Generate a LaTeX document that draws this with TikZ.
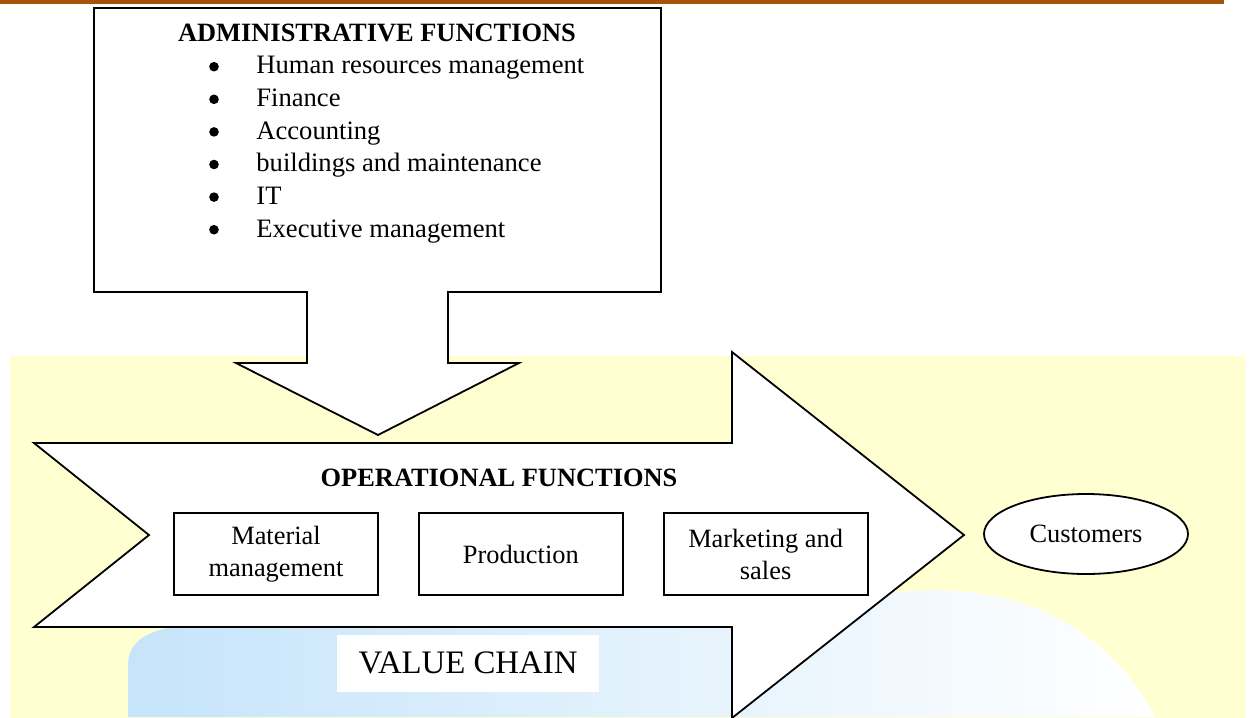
\documentclass[tikz,border=0pt]{standalone}
\usepackage{fontspec}
\setmainfont{Liberation Serif}
\usetikzlibrary{shapes.geometric, positioning}
\definecolor{rulebrown}{RGB}{165, 82, 12}
\definecolor{slideyellow}{RGB}{255, 255, 210}
\definecolor{paleyellow}{RGB}{255, 255, 230}
\definecolor{globeblue}{RGB}{198, 228, 250}

\tikzset{
  blockarrow/.style={draw=black, fill=white, line width=0.9pt, line join=miter},
  funcbox/.style={draw=black, fill=white, line width=0.9pt, minimum width=102pt,
    minimum height=41pt, align=center, inner sep=2pt, font=\fontsize{13.2}{16}\selectfont},
  heading/.style={font=\fontsize{13.2}{16}\selectfont\bfseries, inner sep=0pt},
  listitem/.style={font=\fontsize{13.3}{16.3}\selectfont, inner sep=0pt, anchor=base west}
}

\begin{document}
\begin{tikzpicture}[x=0.5pt, y=-0.5pt]
  \useasboundingbox (0,0) rectangle (1252,717);

  % page rule and slide background
  \fill[rulebrown] (0,0) rectangle (1224,4.5);
  \shade[left color=slideyellow, middle color=paleyellow, right color=slideyellow]
    (10,356) rectangle (1245,717);
  \begin{scope}
    \clip (10,356) rectangle (1245,717);
    % faded globe behind the chain
    \shade[left color=globeblue, right color=white]
      (128,717) -- (128,665) .. controls (128,640) and (150,628) .. (190,625)
      -- (700,605) -- (900,592) .. controls (1020,580) and (1110,630) .. (1155,717) -- cycle;
  \end{scope}

  % administrative box with its down arrow
  \draw[blockarrow] (94,8) -- (661,8) -- (661,292) -- (448,292) -- (448,363) -- (519,363)
    -- (378,435) -- (236,363) -- (307,363) -- (307,292) -- (94,292) -- cycle;
  \node[heading, anchor=base] (admtitle) at (377,42) {ADMINISTRATIVE FUNCTIONS};
  \foreach \entry [count=\k] in {Human resources management, Finance, Accounting,
      buildings and maintenance, IT, Executive management} {
    \node[listitem] (adm\k) at (256,{74+32.6*(\k-1)}) {\entry};
    \fill (214,{66.7+32.6*(\k-1)}) circle (4.8);
  }

  % value chain arrow
  \draw[blockarrow] (34,443) -- (732,443) -- (732,352) -- (964,535) -- (732,718)
    -- (732,627) -- (34,627) -- (149,535) -- cycle;
  \node[heading, anchor=base] (optitle) at (499,486) {OPERATIONAL FUNCTIONS};

  \node[funcbox] (mat) at (276,554) {Material\\management};
  \node[funcbox, right=19.5pt of mat] (prod) {Production};
  \node[funcbox, right=19.5pt of prod] (mkt) {Marketing and\\sales};

  \node[ellipse, draw=black, fill=white, line width=0.9pt, minimum width=102pt,
    minimum height=40pt, inner sep=0pt, font=\fontsize{13.2}{16}\selectfont]
    (cust) at (1086,534) {Customers};

  \node[fill=white, minimum width=131pt, minimum height=28.5pt, inner sep=0pt,
    font=\fontsize{16.4}{20}\selectfont] (chain) at (468,663) {VALUE CHAIN};
\end{tikzpicture}
\end{document}
